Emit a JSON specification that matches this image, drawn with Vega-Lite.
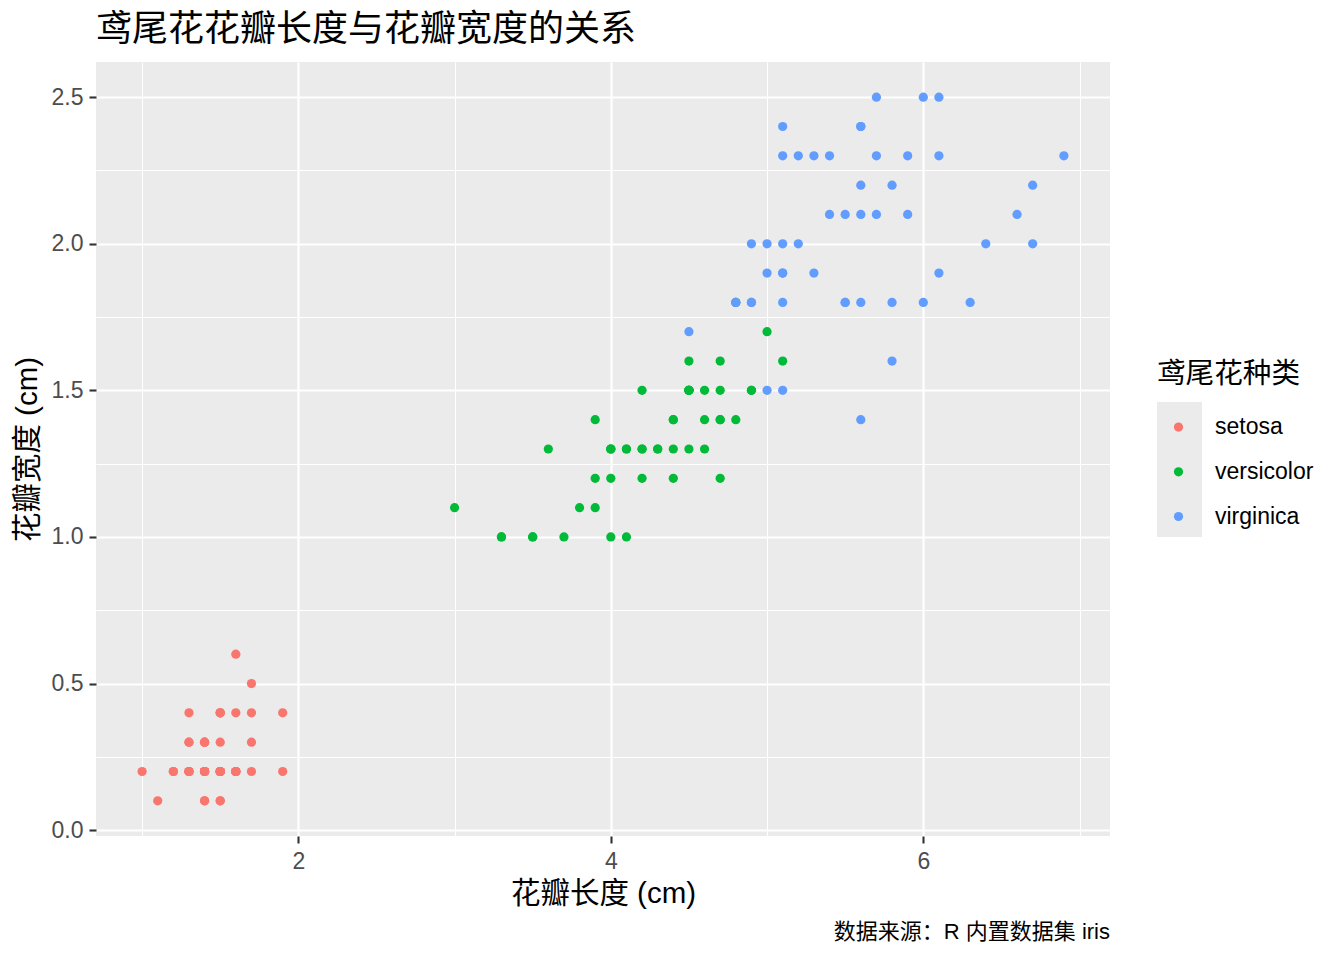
{
  "$schema": "https://vega.github.io/schema/vega-lite/v6.json",
  "width": 1014,
  "height": 774,
  "autosize": {"type": "none"},
  "padding": {"left": 96, "top": 62, "right": 234, "bottom": 124},
  "background": "white",
  "view": {"fill": "#EBEBEB", "stroke": null},
  "title": {
    "text": "鸢尾花花瓣长度与花瓣宽度的关系",
    "anchor": "start",
    "frame": "group",
    "font": "Noto Sans CJK SC",
    "fontSize": 36,
    "fontWeight": "normal",
    "color": "black",
    "offset": 13
  },
  "config": {
    "view": {"fill": "#EBEBEB", "stroke": null},
    "style": {"cell": {"fill": "#EBEBEB", "stroke": null}},
    "axis": {
      "domain": false,
      "gridColor": "white",
      "tickColor": "#333333",
      "tickWidth": 2.1,
      "tickSize": 7,
      "labelFont": "Liberation Sans",
      "labelFontSize": 23,
      "labelColor": "#4D4D4D",
      "labelOverlap": false,
      "titleFont": "Liberation Sans, Noto Sans CJK SC",
      "titleFontSize": 29.5,
      "titleFontWeight": "normal",
      "titleColor": "black"
    }
  },
  "layer": [
    {
      "data": {
        "values": [
          {"petal_length": 1.4, "petal_width": 0.2, "species": "setosa"},
          {"petal_length": 1.4, "petal_width": 0.2, "species": "setosa"},
          {"petal_length": 1.3, "petal_width": 0.2, "species": "setosa"},
          {"petal_length": 1.5, "petal_width": 0.2, "species": "setosa"},
          {"petal_length": 1.4, "petal_width": 0.2, "species": "setosa"},
          {"petal_length": 1.7, "petal_width": 0.4, "species": "setosa"},
          {"petal_length": 1.4, "petal_width": 0.3, "species": "setosa"},
          {"petal_length": 1.5, "petal_width": 0.2, "species": "setosa"},
          {"petal_length": 1.4, "petal_width": 0.2, "species": "setosa"},
          {"petal_length": 1.5, "petal_width": 0.1, "species": "setosa"},
          {"petal_length": 1.5, "petal_width": 0.2, "species": "setosa"},
          {"petal_length": 1.6, "petal_width": 0.2, "species": "setosa"},
          {"petal_length": 1.4, "petal_width": 0.1, "species": "setosa"},
          {"petal_length": 1.1, "petal_width": 0.1, "species": "setosa"},
          {"petal_length": 1.2, "petal_width": 0.2, "species": "setosa"},
          {"petal_length": 1.5, "petal_width": 0.4, "species": "setosa"},
          {"petal_length": 1.3, "petal_width": 0.4, "species": "setosa"},
          {"petal_length": 1.4, "petal_width": 0.3, "species": "setosa"},
          {"petal_length": 1.7, "petal_width": 0.3, "species": "setosa"},
          {"petal_length": 1.5, "petal_width": 0.3, "species": "setosa"},
          {"petal_length": 1.7, "petal_width": 0.2, "species": "setosa"},
          {"petal_length": 1.5, "petal_width": 0.4, "species": "setosa"},
          {"petal_length": 1.0, "petal_width": 0.2, "species": "setosa"},
          {"petal_length": 1.7, "petal_width": 0.5, "species": "setosa"},
          {"petal_length": 1.9, "petal_width": 0.2, "species": "setosa"},
          {"petal_length": 1.6, "petal_width": 0.2, "species": "setosa"},
          {"petal_length": 1.6, "petal_width": 0.4, "species": "setosa"},
          {"petal_length": 1.5, "petal_width": 0.2, "species": "setosa"},
          {"petal_length": 1.4, "petal_width": 0.2, "species": "setosa"},
          {"petal_length": 1.6, "petal_width": 0.2, "species": "setosa"},
          {"petal_length": 1.6, "petal_width": 0.2, "species": "setosa"},
          {"petal_length": 1.5, "petal_width": 0.4, "species": "setosa"},
          {"petal_length": 1.5, "petal_width": 0.1, "species": "setosa"},
          {"petal_length": 1.4, "petal_width": 0.2, "species": "setosa"},
          {"petal_length": 1.5, "petal_width": 0.2, "species": "setosa"},
          {"petal_length": 1.2, "petal_width": 0.2, "species": "setosa"},
          {"petal_length": 1.3, "petal_width": 0.2, "species": "setosa"},
          {"petal_length": 1.4, "petal_width": 0.1, "species": "setosa"},
          {"petal_length": 1.3, "petal_width": 0.2, "species": "setosa"},
          {"petal_length": 1.5, "petal_width": 0.2, "species": "setosa"},
          {"petal_length": 1.3, "petal_width": 0.3, "species": "setosa"},
          {"petal_length": 1.3, "petal_width": 0.3, "species": "setosa"},
          {"petal_length": 1.3, "petal_width": 0.2, "species": "setosa"},
          {"petal_length": 1.6, "petal_width": 0.6, "species": "setosa"},
          {"petal_length": 1.9, "petal_width": 0.4, "species": "setosa"},
          {"petal_length": 1.4, "petal_width": 0.3, "species": "setosa"},
          {"petal_length": 1.6, "petal_width": 0.2, "species": "setosa"},
          {"petal_length": 1.4, "petal_width": 0.2, "species": "setosa"},
          {"petal_length": 1.5, "petal_width": 0.2, "species": "setosa"},
          {"petal_length": 1.4, "petal_width": 0.2, "species": "setosa"},
          {"petal_length": 4.7, "petal_width": 1.4, "species": "versicolor"},
          {"petal_length": 4.5, "petal_width": 1.5, "species": "versicolor"},
          {"petal_length": 4.9, "petal_width": 1.5, "species": "versicolor"},
          {"petal_length": 4.0, "petal_width": 1.3, "species": "versicolor"},
          {"petal_length": 4.6, "petal_width": 1.5, "species": "versicolor"},
          {"petal_length": 4.5, "petal_width": 1.3, "species": "versicolor"},
          {"petal_length": 4.7, "petal_width": 1.6, "species": "versicolor"},
          {"petal_length": 3.3, "petal_width": 1.0, "species": "versicolor"},
          {"petal_length": 4.6, "petal_width": 1.3, "species": "versicolor"},
          {"petal_length": 3.9, "petal_width": 1.4, "species": "versicolor"},
          {"petal_length": 3.5, "petal_width": 1.0, "species": "versicolor"},
          {"petal_length": 4.2, "petal_width": 1.5, "species": "versicolor"},
          {"petal_length": 4.0, "petal_width": 1.0, "species": "versicolor"},
          {"petal_length": 4.7, "petal_width": 1.4, "species": "versicolor"},
          {"petal_length": 3.6, "petal_width": 1.3, "species": "versicolor"},
          {"petal_length": 4.4, "petal_width": 1.4, "species": "versicolor"},
          {"petal_length": 4.5, "petal_width": 1.5, "species": "versicolor"},
          {"petal_length": 4.1, "petal_width": 1.0, "species": "versicolor"},
          {"petal_length": 4.5, "petal_width": 1.5, "species": "versicolor"},
          {"petal_length": 3.9, "petal_width": 1.1, "species": "versicolor"},
          {"petal_length": 4.8, "petal_width": 1.8, "species": "versicolor"},
          {"petal_length": 4.0, "petal_width": 1.3, "species": "versicolor"},
          {"petal_length": 4.9, "petal_width": 1.5, "species": "versicolor"},
          {"petal_length": 4.7, "petal_width": 1.2, "species": "versicolor"},
          {"petal_length": 4.3, "petal_width": 1.3, "species": "versicolor"},
          {"petal_length": 4.4, "petal_width": 1.4, "species": "versicolor"},
          {"petal_length": 4.8, "petal_width": 1.4, "species": "versicolor"},
          {"petal_length": 5.0, "petal_width": 1.7, "species": "versicolor"},
          {"petal_length": 4.5, "petal_width": 1.5, "species": "versicolor"},
          {"petal_length": 3.5, "petal_width": 1.0, "species": "versicolor"},
          {"petal_length": 3.8, "petal_width": 1.1, "species": "versicolor"},
          {"petal_length": 3.7, "petal_width": 1.0, "species": "versicolor"},
          {"petal_length": 3.9, "petal_width": 1.2, "species": "versicolor"},
          {"petal_length": 5.1, "petal_width": 1.6, "species": "versicolor"},
          {"petal_length": 4.5, "petal_width": 1.5, "species": "versicolor"},
          {"petal_length": 4.5, "petal_width": 1.6, "species": "versicolor"},
          {"petal_length": 4.7, "petal_width": 1.5, "species": "versicolor"},
          {"petal_length": 4.4, "petal_width": 1.3, "species": "versicolor"},
          {"petal_length": 4.1, "petal_width": 1.3, "species": "versicolor"},
          {"petal_length": 4.0, "petal_width": 1.3, "species": "versicolor"},
          {"petal_length": 4.4, "petal_width": 1.2, "species": "versicolor"},
          {"petal_length": 4.6, "petal_width": 1.4, "species": "versicolor"},
          {"petal_length": 4.0, "petal_width": 1.2, "species": "versicolor"},
          {"petal_length": 3.3, "petal_width": 1.0, "species": "versicolor"},
          {"petal_length": 4.2, "petal_width": 1.3, "species": "versicolor"},
          {"petal_length": 4.2, "petal_width": 1.2, "species": "versicolor"},
          {"petal_length": 4.2, "petal_width": 1.3, "species": "versicolor"},
          {"petal_length": 4.3, "petal_width": 1.3, "species": "versicolor"},
          {"petal_length": 3.0, "petal_width": 1.1, "species": "versicolor"},
          {"petal_length": 4.1, "petal_width": 1.3, "species": "versicolor"},
          {"petal_length": 6.0, "petal_width": 2.5, "species": "virginica"},
          {"petal_length": 5.1, "petal_width": 1.9, "species": "virginica"},
          {"petal_length": 5.9, "petal_width": 2.1, "species": "virginica"},
          {"petal_length": 5.6, "petal_width": 1.8, "species": "virginica"},
          {"petal_length": 5.8, "petal_width": 2.2, "species": "virginica"},
          {"petal_length": 6.6, "petal_width": 2.1, "species": "virginica"},
          {"petal_length": 4.5, "petal_width": 1.7, "species": "virginica"},
          {"petal_length": 6.3, "petal_width": 1.8, "species": "virginica"},
          {"petal_length": 5.8, "petal_width": 1.8, "species": "virginica"},
          {"petal_length": 6.1, "petal_width": 2.5, "species": "virginica"},
          {"petal_length": 5.1, "petal_width": 2.0, "species": "virginica"},
          {"petal_length": 5.3, "petal_width": 1.9, "species": "virginica"},
          {"petal_length": 5.5, "petal_width": 2.1, "species": "virginica"},
          {"petal_length": 5.0, "petal_width": 2.0, "species": "virginica"},
          {"petal_length": 5.1, "petal_width": 2.4, "species": "virginica"},
          {"petal_length": 5.3, "petal_width": 2.3, "species": "virginica"},
          {"petal_length": 5.5, "petal_width": 1.8, "species": "virginica"},
          {"petal_length": 6.7, "petal_width": 2.2, "species": "virginica"},
          {"petal_length": 6.9, "petal_width": 2.3, "species": "virginica"},
          {"petal_length": 5.0, "petal_width": 1.5, "species": "virginica"},
          {"petal_length": 5.7, "petal_width": 2.3, "species": "virginica"},
          {"petal_length": 4.9, "petal_width": 2.0, "species": "virginica"},
          {"petal_length": 6.7, "petal_width": 2.0, "species": "virginica"},
          {"petal_length": 4.9, "petal_width": 1.8, "species": "virginica"},
          {"petal_length": 5.7, "petal_width": 2.1, "species": "virginica"},
          {"petal_length": 6.0, "petal_width": 1.8, "species": "virginica"},
          {"petal_length": 4.8, "petal_width": 1.8, "species": "virginica"},
          {"petal_length": 4.9, "petal_width": 1.8, "species": "virginica"},
          {"petal_length": 5.6, "petal_width": 2.1, "species": "virginica"},
          {"petal_length": 5.8, "petal_width": 1.6, "species": "virginica"},
          {"petal_length": 6.1, "petal_width": 1.9, "species": "virginica"},
          {"petal_length": 6.4, "petal_width": 2.0, "species": "virginica"},
          {"petal_length": 5.6, "petal_width": 2.2, "species": "virginica"},
          {"petal_length": 5.1, "petal_width": 1.5, "species": "virginica"},
          {"petal_length": 5.6, "petal_width": 1.4, "species": "virginica"},
          {"petal_length": 6.1, "petal_width": 2.3, "species": "virginica"},
          {"petal_length": 5.6, "petal_width": 2.4, "species": "virginica"},
          {"petal_length": 5.5, "petal_width": 1.8, "species": "virginica"},
          {"petal_length": 4.8, "petal_width": 1.8, "species": "virginica"},
          {"petal_length": 5.4, "petal_width": 2.1, "species": "virginica"},
          {"petal_length": 5.6, "petal_width": 2.4, "species": "virginica"},
          {"petal_length": 5.1, "petal_width": 2.3, "species": "virginica"},
          {"petal_length": 5.1, "petal_width": 1.9, "species": "virginica"},
          {"petal_length": 5.9, "petal_width": 2.3, "species": "virginica"},
          {"petal_length": 5.7, "petal_width": 2.5, "species": "virginica"},
          {"petal_length": 5.2, "petal_width": 2.3, "species": "virginica"},
          {"petal_length": 5.0, "petal_width": 1.9, "species": "virginica"},
          {"petal_length": 5.2, "petal_width": 2.0, "species": "virginica"},
          {"petal_length": 5.4, "petal_width": 2.3, "species": "virginica"},
          {"petal_length": 5.1, "petal_width": 1.8, "species": "virginica"}
        ]
      },
      "mark": {"type": "point", "filled": true, "opacity": 1, "size": 85},
      "encoding": {
        "x": {
          "field": "petal_length",
          "type": "quantitative",
          "title": "花瓣长度 (cm)",
          "scale": {"domain": [0.705, 7.195], "nice": false, "zero": false},
          "axis": {
            "values": [1, 2, 3, 4, 5, 6, 7],
            "format": "d",
            "labelPadding": 7,
            "titlePadding": 6,
            "labelExpr": "datum.value % 2 === 0 ? datum.label : ''",
            "gridWidth": {"condition": {"test": "datum.value % 2 === 0", "value": 2.1}, "value": 1.05},
            "tickOpacity": {"condition": {"test": "datum.value % 2 === 0", "value": 1}, "value": 0}
          }
        },
        "y": {
          "field": "petal_width",
          "type": "quantitative",
          "title": "花瓣宽度 (cm)",
          "scale": {"domain": [-0.02, 2.62], "nice": false, "zero": false},
          "axis": {
            "values": [0, 0.25, 0.5, 0.75, 1, 1.25, 1.5, 1.75, 2, 2.25, 2.5],
            "format": ".1f",
            "labelPadding": 6,
            "titlePadding": 9,
            "labelExpr": "abs(datum.value * 2 - round(datum.value * 2)) < 0.001 ? datum.label : ''",
            "gridWidth": {"condition": {"test": "abs(datum.value * 2 - round(datum.value * 2)) < 0.001", "value": 2.1}, "value": 1.05},
            "tickOpacity": {"condition": {"test": "abs(datum.value * 2 - round(datum.value * 2)) < 0.001", "value": 1}, "value": 0}
          }
        },
        "color": {
          "field": "species",
          "type": "nominal",
          "scale": {"domain": ["setosa", "versicolor", "virginica"], "range": ["#F8766D", "#00BA38", "#619CFF"]},
          "legend": {
            "orient": "none",
            "legendX": 1061,
            "legendY": 298,
            "zindex": 1,
            "padding": 0,
            "title": "鸢尾花种类",
            "titleFont": "Noto Sans CJK SC",
            "titleFontSize": 28.6,
            "titleFontWeight": "normal",
            "titleColor": "black",
            "titlePadding": 27,
            "labelFont": "Liberation Sans",
            "labelFontSize": 23,
            "labelColor": "black",
            "symbolOffset": 10,
            "labelOffset": 25,
            "rowPadding": 20.7,
            "symbolSize": 85
          }
        }
      }
    },
    {
      "data": {"values": [{"caption": "数据来源：R 内置数据集 iris"}]},
      "mark": {
        "type": "text",
        "align": "right",
        "baseline": "middle",
        "font": "Liberation Sans, Noto Sans CJK SC",
        "fontSize": 22,
        "color": "black"
      },
      "encoding": {
        "x": {"datum": 7.195, "type": "quantitative"},
        "y": {"datum": -0.348, "type": "quantitative"},
        "text": {"field": "caption"}
      }
    },
    {
      "data": {"values": [{"key": "setosa"}, {"key": "versicolor"}, {"key": "virginica"}]},
      "mark": {"type": "point", "filled": true, "opacity": 0, "color": "#EBEBEB"},
      "encoding": {
        "shape": {
          "field": "key",
          "type": "nominal",
          "scale": {"range": ["square", "square", "square"]},
          "legend": {
            "orient": "none",
            "legendX": 1061,
            "legendY": 340,
            "zindex": 0,
            "padding": 0,
            "title": null,
            "labelExpr": "''",
            "labelFontSize": 1,
            "rowPadding": 0,
            "symbolSize": 2025,
            "symbolType": "square",
            "symbolFillColor": "#EBEBEB",
            "symbolStrokeWidth": 0,
            "symbolOpacity": 1
          }
        }
      }
    }
  ]
}
